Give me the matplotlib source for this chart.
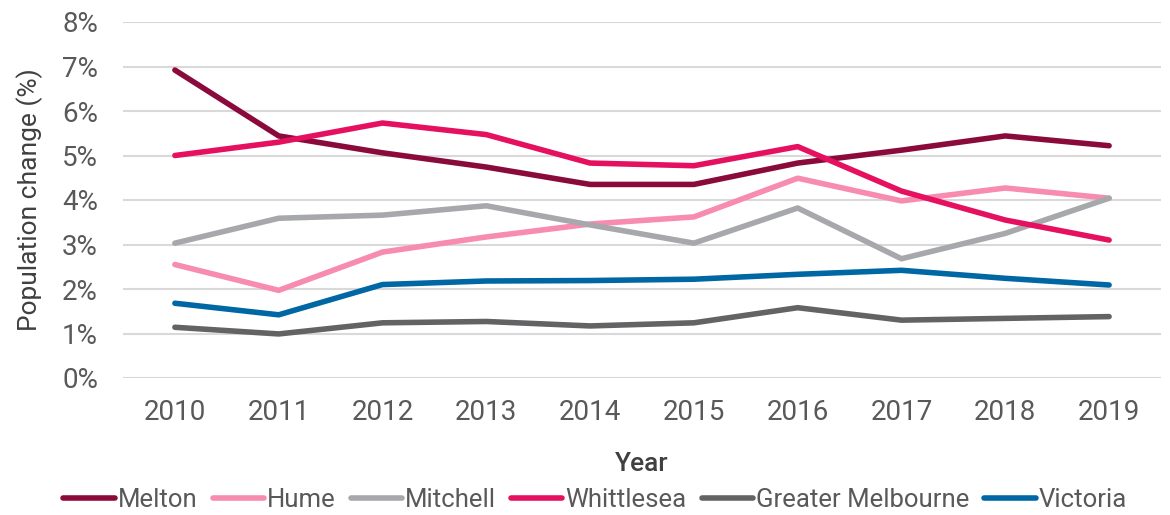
import numpy as np
import matplotlib.pyplot as plt
from matplotlib.ticker import FuncFormatter

years = ["2010", "2011", "2012", "2013", "2014", "2015", "2016", "2017", "2018", "2019"]

melton = [6.92, 5.44, 5.06, 4.74, 4.35, 4.35, 4.83, 5.12, 5.44, 5.22]
hume = [2.55, 1.97, 2.83, 3.17, 3.46, 3.62, 4.49, 3.98, 4.27, 4.04]
mitchell = [3.03, 3.59, 3.66, 3.87, 3.44, 3.03, 3.82, 2.68, 3.25, 4.04]
whittlesea = [5.0, 5.3, 5.73, 5.47, 4.83, 4.77, 5.2, 4.2, 3.55, 3.1]
greater_melbourne = [1.14, 0.99, 1.24, 1.27, 1.17, 1.24, 1.58, 1.3, 1.34, 1.38]
victoria = [1.68, 1.42, 2.1, 2.18, 2.19, 2.22, 2.33, 2.42, 2.24, 2.09]

series = [
    ("Melton", melton, "#8a0a3c"),
    ("Hume", hume, "#f78bb0"),
    ("Mitchell", mitchell, "#a7a8ab"),
    ("Whittlesea", whittlesea, "#e5105f"),
    ("Greater Melbourne", greater_melbourne, "#636366"),
    ("Victoria", victoria, "#0067a5"),
]

plt.rcParams['font.family'] = ['Roboto', 'DejaVu Sans']
grey = "#595959"

fig = plt.figure(figsize=(11.7, 5.15), dpi=100)
ax = fig.add_axes([123 / 1170, 1 - 378 / 515, (1161 - 123) / 1170, (378 - 22) / 515])

x = np.arange(len(years))
for name, vals, col in series:
    ax.plot(x, vals, color=col, lw=4, solid_capstyle="round", solid_joinstyle="round", label=name)

ax.set_xlim(-0.5, len(years) - 0.5)
ax.set_ylim(0, 8)
ax.set_yticks(range(0, 9))
ax.yaxis.set_major_formatter(FuncFormatter(lambda v, p: f"{v:.0f}%"))
ax.set_xticks(x)
ax.set_xticklabels(years)
ax.grid(axis="y", color="#d9d9d9", lw=1.5)
ax.set_axisbelow(True)
for s in ax.spines.values():
    s.set_visible(False)
ax.tick_params(length=0, labelsize=20, colors=grey)
ax.tick_params(axis="x", pad=15)
ax.tick_params(axis="y", pad=18)

ax.set_xlabel("Year", fontsize=19, color="#404040", fontweight="medium", labelpad=19)
ax.set_ylabel("Population change (%)", fontsize=19, color="#404040", labelpad=14)

fig.legend(loc="center", bbox_to_anchor=(595 / 1170, 1 - 500 / 515), ncol=6, frameon=False,
           fontsize=18.5, labelcolor=grey, handlelength=2.0, handletextpad=0.1,
           columnspacing=0.6, borderaxespad=0)

fig.savefig("out.png", dpi=100)
